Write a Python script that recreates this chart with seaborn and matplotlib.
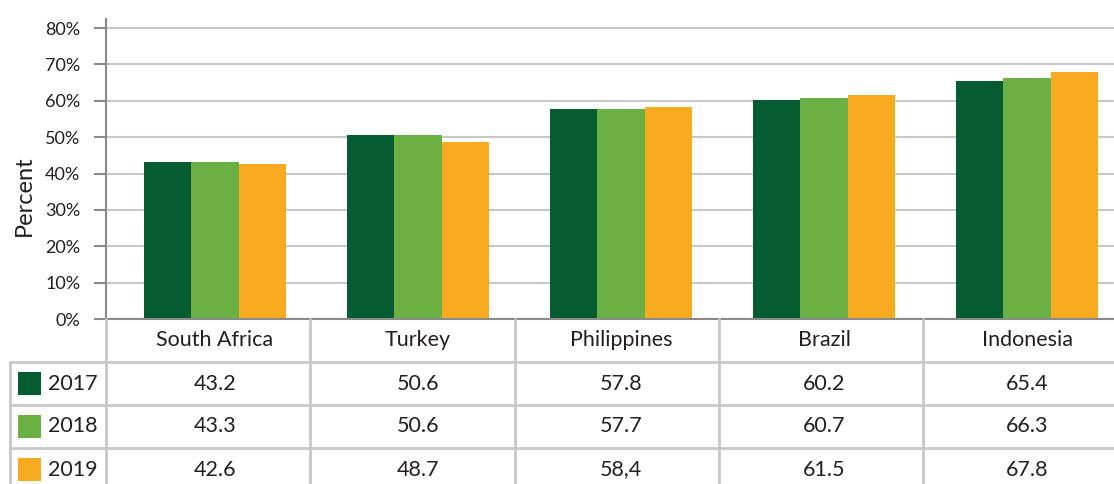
import matplotlib
matplotlib.use("Agg")
import matplotlib.pyplot as plt
import seaborn as sns
import pandas as pd
from matplotlib.transforms import blended_transform_factory
from matplotlib.patches import Rectangle
from matplotlib.lines import Line2D

# ---- data ----
countries = ["South Africa", "Turkey", "Philippines", "Brazil", "Indonesia"]
years = ["2017", "2018", "2019"]
v2017 = [43.2, 50.6, 57.8, 60.2, 65.4]
v2018 = [43.3, 50.6, 57.7, 60.7, 66.3]
v2019 = [42.6, 48.7, 58.4, 61.5, 67.8]
t2017 = ["43.2", "50.6", "57.8", "60.2", "65.4"]
t2018 = ["43.3", "50.6", "57.7", "60.7", "66.3"]
t2019 = ["42.6", "48.7", "58,4", "61.5", "67.8"]
yticks = [0, 10, 20, 30, 40, 50, 60, 70, 80]
ytick_labels = ["0%", "10%", "20%", "30%", "40%", "50%", "60%", "70%", "80%"]
ylabel = "Percent"
colors = ["#055C30", "#6AB042", "#F9AB1F"]

sns.set_theme(style="white")
plt.rcParams['font.family'] = ['Lato', 'DejaVu Sans']
TXT = "#231F20"
GRID = "#C8C8C8"
AXC = "#8A8A8A"

W, H = 1114, 484
fig = plt.figure(figsize=(W / 100, H / 100), dpi=100)
ax = fig.add_axes([106 / W, (H - 319) / H, 1018 / W, 300 / H])

rows = []
for yr, vals in zip(years, [v2017, v2018, v2019]):
    for c, v in zip(countries, vals):
        rows.append({"country": c, "year": yr, "value": v})
df = pd.DataFrame(rows)

sns.barplot(data=df, x="country", y="value", hue="year", order=countries,
            hue_order=years, palette=colors, width=0.7, gap=0, saturation=1,
            linewidth=0, legend=False, errorbar=None, ax=ax)

slot = 203.0  # px per category
xl = -0.5 - 7.5 / slot
ax.set_xlim(xl, xl + 1018 / slot)
ax.set_ylim(0, 82.5)
ax.set_yticks(yticks)
ax.set_yticklabels(ytick_labels, fontsize=13, color=TXT)
ax.set_xticks([])
ax.set_xlabel("")
ax.set_ylabel("")
ax.yaxis.grid(True, color=GRID, lw=1.5)
ax.set_axisbelow(True)
for s in ["top", "right"]:
    ax.spines[s].set_visible(False)
for s in ["left", "bottom"]:
    ax.spines[s].set_color(AXC)
    ax.spines[s].set_linewidth(1.5)
ax.tick_params(axis="y", direction="out", length=8.6, width=1.5, color=AXC, pad=10, left=True)

fig.text(24 / W, 1 - 196 / H, ylabel, rotation=90, ha="center", va="center",
         fontsize=17, color=TXT)

# ---- data table ----
def fy(ypx):
    return 1 - ypx / H

def fx(xpx):
    return xpx / W

row_edges = [319, 362, 405, 448, 491]
col_edges = [106, 310, 515, 719, 923, 1127]
tr = blended_transform_factory(ax.transData, fig.transFigure)
FS = 15.5

for i, c in enumerate(countries):
    fig.text(0, 0, c, transform=tr, ha="center", va="center",
             fontsize=FS, color=TXT).set_position((i, fy((row_edges[0] + row_edges[1]) / 2)))
for r, (yr, labs) in enumerate(zip(years, [t2017, t2018, t2019])):
    yc = (row_edges[r + 1] + row_edges[r + 2]) / 2
    for i, t in enumerate(labs):
        txt = fig.text(0, 0, t, transform=tr, ha="center", va="center",
                       fontsize=FS, color=TXT)
        txt.set_position((i, fy(yc)))
    sq = 23
    fig.add_artist(Rectangle((fx(18), fy(yc + sq / 2)), sq / W, sq / H,
                             transform=fig.transFigure, color=colors[r], lw=0))
    fig.text(fx(48), fy(yc), yr, ha="left", va="center", fontsize=FS, color=TXT)

# horizontal lines
for yp in row_edges[1:4]:
    fig.add_artist(Line2D([fx(10), fx(1127)], [fy(yp), fy(yp)],
                          transform=fig.transFigure, color=GRID, lw=2))
# vertical column lines
for xp in col_edges:
    fig.add_artist(Line2D([fx(xp), fx(xp)], [fy(319), fy(491)],
                          transform=fig.transFigure, color=GRID, lw=2))
fig.add_artist(Line2D([fx(10), fx(10)], [fy(362), fy(491)],
                      transform=fig.transFigure, color=GRID, lw=2))

fig.savefig("out.png", dpi=100)
